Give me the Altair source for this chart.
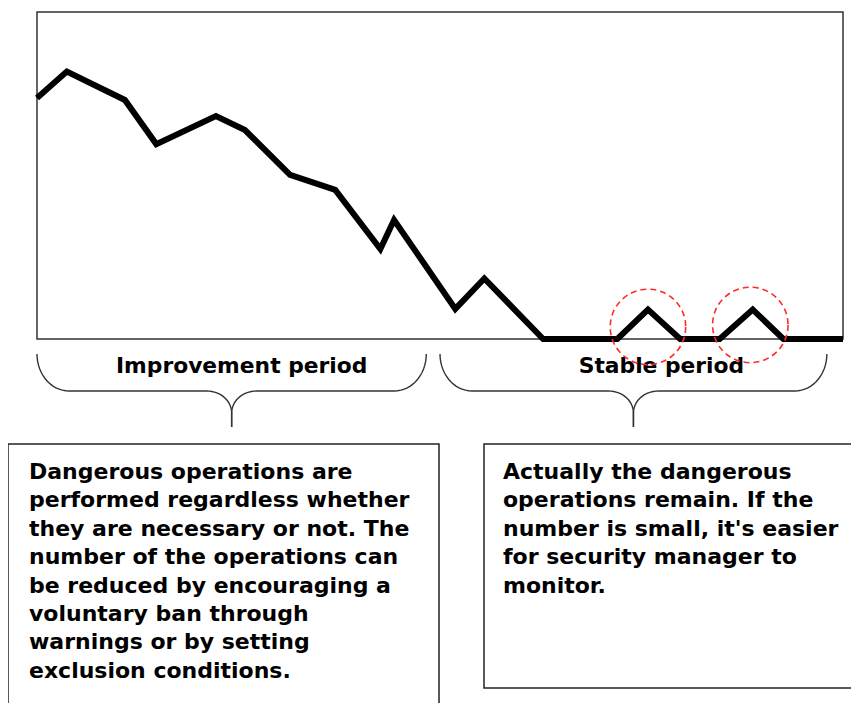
import altair as alt
import pandas as pd
import numpy as np

# ---------------- data ----------------
time = [0, 3.7, 10.9, 14.8, 22.2, 25.8, 31.4, 37.0, 42.6, 44.3,
        51.9, 55.5, 62.8, 72.0, 75.8, 79.8, 84.7, 88.8, 92.6, 100]
count = [73.7, 81.8, 73.1, 59.6, 68.2, 63.9, 50.2, 45.6, 27.5, 36.4,
         9.2, 18.5, 0, 0, 9.0, 0, 0, 9.0, 0, 0]

periods = ["Improvement period", "Stable period"]
period_start = [0, 50]
period_end = [48.3, 98]

highlight_time = [75.8, 88.5]
highlight_count = [3.7, 4.3]

left_note = [
    "Dangerous operations are",
    "performed regardless whether",
    "they are necessary or not. The",
    "number of the operations can",
    "be reduced by encouraging a",
    "voluntary ban through",
    "warnings or by setting",
    "exclusion conditions.",
]
right_note = [
    "Actually the dangerous",
    "operations remain. If the",
    "number is small, it's easier",
    "for security manager to",
    "monitor.",
]

# ---------------- layout (page pixels) ----------------
P_LEFT, P_RIGHT, P_TOP, P_BOTTOM = 37, 843, 12, 339
SX = (P_RIGHT - P_LEFT) / 100.0
SY = (P_BOTTOM - P_TOP) / 100.0
CANVAS_W, CANVAS_H = 843, 695


def X(px):
    return (px - P_LEFT) / SX


def Y(py):
    return (P_BOTTOM - py) / SY


def PX(t):
    return P_LEFT + t * SX


xs = alt.Scale(domain=[X(8), X(8 + CANVAS_W)], nice=False, zero=False)
ys = alt.Scale(domain=[Y(8 + CANVAS_H), Y(8)], nice=False, zero=False)


def enc_xy(xf="t", yf="c"):
    return dict(
        x=alt.X(f"{xf}:Q", scale=xs, axis=None),
        y=alt.Y(f"{yf}:Q", scale=ys, axis=None),
    )


# main series
line_df = pd.DataFrame({"t": time, "c": count})

# plot frame
frame_df = pd.DataFrame({"t": [0], "t2": [100], "c": [0], "c2": [100]})

# braces built from the periods
BR_TOP, BR_H, BR_CUSP, BR_STEM = 354, 391, 413, 427
END_R, CUSP_R = 32, 25
rows = []
theta = np.linspace(0, np.pi / 2, 16)
for name, s, e in zip(periods, period_start, period_end):
    a, b = PX(s), PX(e)
    m = (a + b) / 2
    half = []
    for th in theta:
        half.append((a + END_R - END_R * np.cos(th), BR_TOP + (BR_H - BR_TOP) * np.sin(th)))
    for th in theta:
        half.append((m - CUSP_R + CUSP_R * np.sin(th), BR_CUSP - (BR_CUSP - BR_H) * np.cos(th)))
    half.append((m, BR_STEM))
    for side in ("L", "R"):
        for o, (px, py) in enumerate(half):
            pxx = px if side == "L" else a + b - px
            rows.append({"t": X(pxx), "c": Y(py), "key": name + side, "o": o})
brace_df = pd.DataFrame(rows)

label_dx = [10, 28]
label_df = pd.DataFrame({
    "t": [(s + e) / 2 + dx / SX for s, e, dx in zip(period_start, period_end, label_dx)],
    "c": [Y(373)] * 2,
    "label": periods,
})

hl_df = pd.DataFrame({"t": highlight_time, "c": highlight_count})

boxes_df = pd.DataFrame({
    "t": [X(8), X(484)],
    "t2": [X(439), X(880)],
    "c": [Y(444), Y(444)],
    "c2": [Y(730), Y(688)],
})

# ---------------- layers ----------------
frame = alt.Chart(frame_df).mark_rect(fill=None, stroke="#333333", strokeWidth=1.5).encode(
    x2="t2:Q", y2="c2:Q", **enc_xy())

series = alt.Chart(line_df).mark_line(
    color="black", strokeWidth=6, strokeJoin="miter", strokeCap="butt"
).encode(**enc_xy())

braces = alt.Chart(brace_df).mark_line(color="#333333", strokeWidth=1.4).encode(
    detail="key:N", order="o:Q", **enc_xy())

labels = alt.Chart(label_df).mark_text(
    font="DejaVu Sans", fontWeight="bold", fontSize=21.8, baseline="alphabetic",
    align="center", color="black"
).encode(text="label:N", **enc_xy())

circles = alt.Chart(hl_df).mark_point(
    shape="circle", size=5700, filled=False, color="#ff2a2a", strokeWidth=1.6,
    strokeDash=[6, 4], opacity=1
).encode(**enc_xy())

boxes = alt.Chart(boxes_df).mark_rect(fill="white", stroke="#222222", strokeWidth=1.5).encode(
    x2="t2:Q", y2="c2:Q", **enc_xy())

anchor_df = pd.DataFrame({"t": [X(29), X(503)], "c": [Y(479), Y(479)]})

left_text = alt.Chart(anchor_df.iloc[[0]]).mark_text(
    font="DejaVu Sans", fontWeight="bold", fontSize=22, lineHeight=28.4,
    align="left", baseline="alphabetic", color="black"
).encode(text=alt.value(left_note), **enc_xy())

right_text = alt.Chart(anchor_df.iloc[[1]]).mark_text(
    font="DejaVu Sans", fontWeight="bold", fontSize=22, lineHeight=28.4,
    align="left", baseline="alphabetic", color="black"
).encode(text=alt.value(right_note), **enc_xy())

chart = alt.layer(
    frame, series, braces, labels, circles, boxes, left_text, right_text
).properties(
    width=CANVAS_W, height=CANVAS_H, autosize=alt.AutoSizeParams(type="none"), padding=0,
    background="white"
).configure_view(stroke=None)

chart.save("out.html", embed_options={"renderer": "svg", "actions": False})
